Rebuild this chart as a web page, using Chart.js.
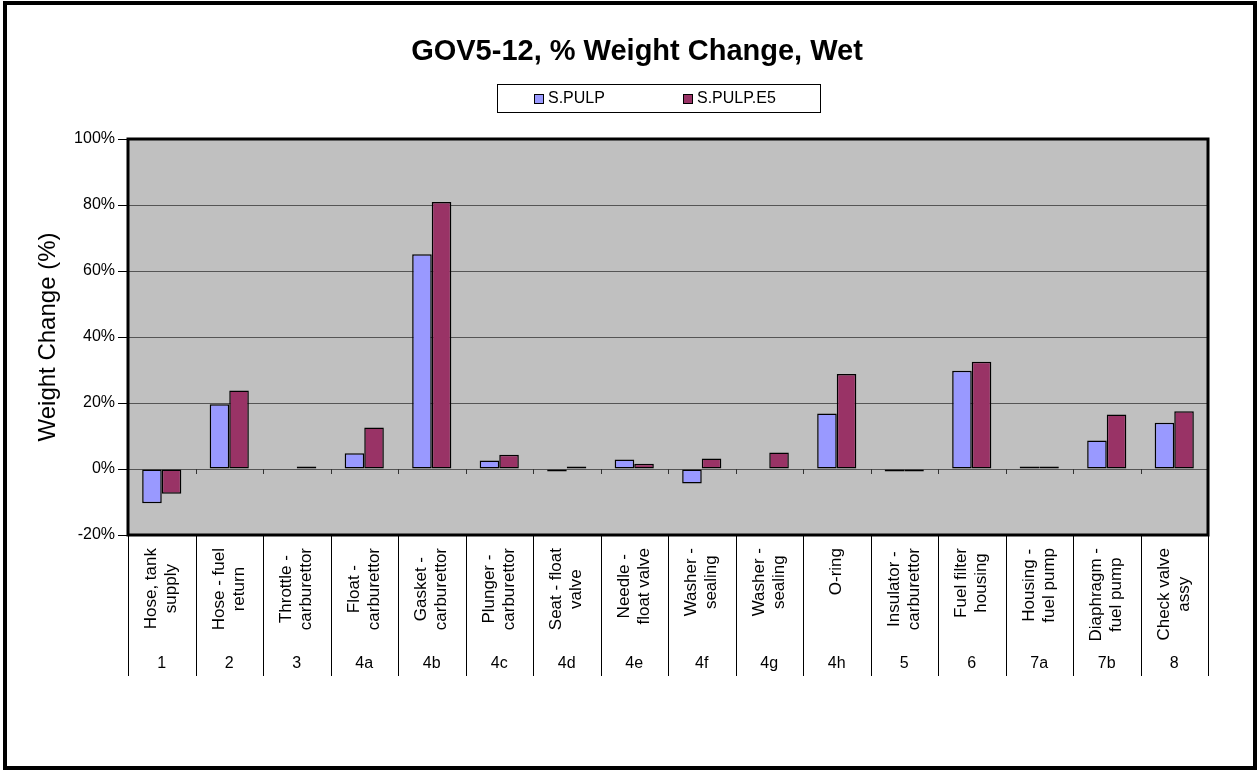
<!DOCTYPE html>
<html>
<head>
<meta charset="utf-8">
<title>GOV5-12, % Weight Change, Wet</title>
<script src="https://cdn.jsdelivr.net/npm/chart.js@4.4.1/dist/chart.umd.min.js"></script>
<style>
body{margin:0;background:#fff;}
canvas{display:block;}
</style>
</head>
<body>
<canvas id="myChart" width="1260" height="771"></canvas>
<script>
// part numbers (bottom row) and part names (rotated row)
var codes=['1','2','3','4a','4b','4c','4d','4e','4f','4g','4h','5','6','7a','7b','8'];
var parts=['Hose, tank\nsupply','Hose - fuel\nreturn','Throttle -\ncarburettor','Float -\ncarburettor',
  'Gasket -\ncarburettor','Plunger -\ncarburettor','Seat - float\nvalve','Needle -\nfloat valve',
  'Washer -\nsealing','Washer -\nsealing','O-ring','Insulator -\ncarburettor','Fuel filter\nhousing',
  'Housing -\nfuel pump','Diaphragm -\nfuel pump','Check valve\nassy'];
// % weight change (null = no bar)
var spulp=[-10.4,19.6,null,4.8,65.1,2.6,-0.3,2.9,-4.4,null,16.8,-0.4,29.8,0.5,8.6,14.0];
var spulpE5=[-7.5,23.8,0.2,12.6,80.9,4.3,0.1,1.6,3.2,5.0,28.8,-0.1,32.5,0.3,16.5,17.5];
var yTicks=[-20,0,20,40,60,80,100];

var FONT="'Liberation Sans', Arial, sans-serif";
Chart.defaults.font.family=FONT;

var extras={
  id:'extras',
  beforeDraw:function(chart){
    var ctx=chart.ctx, a=chart.chartArea;
    ctx.save();
    ctx.fillStyle='#fff';
    ctx.fillRect(0,0,chart.width,chart.height);
    ctx.fillStyle='#c0c0c0';
    ctx.fillRect(a.left,a.top,a.right-a.left,a.bottom-a.top);
    ctx.restore();
  },
  afterDraw:function(chart){
    var ctx=chart.ctx, a=chart.chartArea, x=chart.scales.x, y=chart.scales.y;
    var n=codes.length;
    var edges=[];
    for(var i=0;i<=n;i++){
      if(i==0) edges.push(a.left);
      else if(i==n) edges.push(a.right);
      else edges.push((x.getPixelForValue(i-1)+x.getPixelForValue(i))/2);
    }
    ctx.save();
    // small ticks on the zero line
    var y0=y.getPixelForValue(0);
    ctx.strokeStyle='#333';
    ctx.lineWidth=1;
    ctx.beginPath();
    for(var i=1;i<n;i++){
      var px=Math.round(edges[i])+0.5;
      ctx.moveTo(px,y0);ctx.lineTo(px,y0+5);
    }
    ctx.stroke();
    // separators of the category table
    ctx.strokeStyle='#000';
    ctx.beginPath();
    for(var i=0;i<=n;i++){
      var px=Math.round(edges[i])+0.5;
      ctx.moveTo(px,a.bottom);ctx.lineTo(px,a.bottom+141);
    }
    ctx.stroke();
    // rotated part names, lines centred in a block that hangs from the top
    ctx.fillStyle='#000';
    ctx.font='17px '+FONT;
    ctx.textAlign='center';
    ctx.textBaseline='middle';
    for(var i=0;i<n;i++){
      var lines=parts[i].split('\n');
      var cx=x.getPixelForValue(i);
      var w=0;
      lines.forEach(function(t){w=Math.max(w,ctx.measureText(t).width);});
      for(var j=0;j<lines.length;j++){
        var lx=cx+(j-(lines.length-1)/2)*20;
        ctx.save();
        ctx.translate(lx,a.bottom+13+w/2);
        ctx.rotate(-Math.PI/2);
        ctx.fillText(lines[j],0,0);
        ctx.restore();
      }
    }
    // part numbers
    ctx.font='16px '+FONT;
    ctx.textAlign='center';
    for(var i=0;i<n;i++) ctx.fillText(codes[i],x.getPixelForValue(i),a.bottom+129);
    // plot border
    ctx.lineWidth=3;
    ctx.strokeRect(a.left,a.top,a.right-a.left,a.bottom-a.top);
    // title
    ctx.font='bold 29px '+FONT;
    ctx.textBaseline='alphabetic';
    ctx.fillText('GOV5-12, % Weight Change, Wet',637,60);
    // legend box
    ctx.lineWidth=1;
    ctx.strokeRect(497.5,84.5,323,28);
    ctx.font='16px '+FONT;
    ctx.textAlign='left';
    ctx.textBaseline='middle';
    var lx=[534,683];
    chart.data.datasets.forEach(function(ds,k){
      ctx.fillStyle=ds.backgroundColor;
      ctx.fillRect(lx[k],94,9,9);
      ctx.strokeStyle='#000';
      ctx.strokeRect(lx[k]+0.5,94.5,9,9);
      ctx.fillStyle='#000';
      ctx.fillText(ds.label,lx[k]+14,99);
    });
    // page border
    ctx.lineWidth=4;
    ctx.strokeRect(5,3,1250,765);
    ctx.restore();
  }
};

var ctx=document.getElementById('myChart').getContext('2d');
var chart=new Chart(ctx,{
  type:'bar',
  data:{
    labels:codes,
    datasets:[{
      label:'S.PULP',
      data:spulp,
      backgroundColor:'#9999ff',
      borderColor:'#000',
      borderWidth:1.5,
      borderSkipped:false,
      minBarLength:2.5
    },{
      label:'S.PULP.E5',
      data:spulpE5,
      backgroundColor:'#993366',
      borderColor:'#000',
      borderWidth:1.5,
      borderSkipped:false,
      minBarLength:2.5
    }]
  },
  options:{
    responsive:false,
    animation:false,
    layout:{padding:{top:139,right:52}},
    datasets:{bar:{categoryPercentage:0.58,barPercentage:1}},
    plugins:{legend:{display:false},title:{display:false},tooltip:{enabled:false}},
    scales:{
      x:{
        grid:{display:false},
        border:{display:false},
        ticks:{display:false},
        afterFit:function(s){s.height=236;}
      },
      y:{
        min:-20,max:100,
        afterBuildTicks:function(s){s.ticks=yTicks.map(function(v){return {value:v};});},
        ticks:{color:'#000',font:{size:16},padding:3,callback:function(v){return v+'%';}},
        grid:{color:'#555',tickColor:'#000',tickLength:10,lineWidth:1},
        border:{display:false},
        title:{display:true,text:'Weight Change (%)',color:'#000',font:{size:24},padding:{top:34,bottom:0}},
        afterFit:function(s){s.width=128;}
      }
    }
  },
  plugins:[extras]
});
</script>
</body>
</html>
